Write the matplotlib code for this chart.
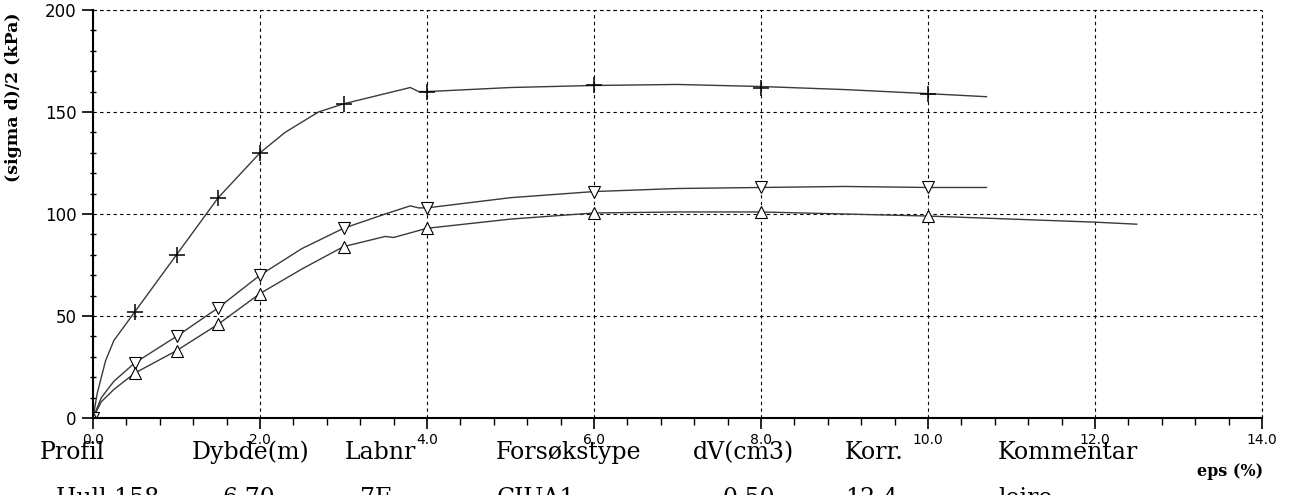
import numpy as np
import matplotlib.pyplot as plt
from matplotlib.ticker import MultipleLocator, FormatStrFormatter

# curve traces (eps %, kPa)
plus_x = [0, 0.05, 0.15, 0.25, 0.5, 1.0, 1.5, 2.0, 2.3, 2.7, 3.0, 3.4, 3.8, 3.9, 4.0, 5.0, 6.0, 7.0, 8.0, 9.0, 10.0, 10.7]
plus_y = [0, 12, 28, 38, 52, 80, 108, 130, 140, 150, 154, 158, 162, 160, 160, 162, 163, 163.5, 162.5, 161, 159, 157.5]
down_x = [0, 0.1, 0.25, 0.5, 1.0, 1.5, 2.0, 2.5, 3.0, 3.5, 3.8, 3.9, 4.0, 5.0, 6.0, 7.0, 8.0, 9.0, 10.0, 10.7]
down_y = [0, 10, 18, 27, 40, 54, 70, 83, 93, 100, 104, 103, 103, 108, 111, 112.5, 113, 113.5, 113, 113]
up_x = [0, 0.1, 0.25, 0.5, 1.0, 1.5, 2.0, 2.5, 3.0, 3.5, 3.6, 4.0, 5.0, 6.0, 7.0, 8.0, 9.0, 10.0, 11.0, 12.0, 12.5]
up_y = [0, 8, 14, 22, 33, 46, 61, 73, 84, 89, 88.5, 93, 97.5, 100.5, 101, 101, 100, 99, 97.5, 96, 95]

# marker positions
mk_x = [0, 0.5, 1.0, 1.5, 2.0, 3.0, 4.0, 6.0, 8.0, 10.0]
mk_plus = [0, 52, 80, 108, 130, 154, 160, 163, 162, 159]
mk_down = [0, 27, 40, 54, 70, 93, 103, 111, 113, 113]
mk_up = [0, 22, 33, 46, 61, 84, 93, 100.5, 101, 99]

headers = ['Profil', 'Dybde(m)', 'Labnr', 'Forsøkstype', 'dV(cm3)', 'Korr.', 'Kommentar']
values = ['Hull 158', '6.70', '7F', 'CIUA1', '0.50', '12.4', 'leire']
head_px = [40, 192, 345, 496, 693, 845, 998]
val_px = [56, 222, 360, 497, 722, 845, 998]

W, H = 1305, 495
fig = plt.figure(figsize=(W / 100, H / 100), dpi=100)
ax = fig.add_axes([93 / W, 1 - 418 / H, (1262 - 93) / W, (418 - 10) / H])

lc = '#3a3a3a'
ax.plot(plus_x, plus_y, color=lc, lw=1.0)
ax.plot(down_x, down_y, color=lc, lw=1.0)
ax.plot(up_x, up_y, color=lc, lw=1.0)
ax.plot(mk_x, mk_plus, ls='none', marker='+', ms=11, mew=1.1, color='black')
ax.plot(mk_x, mk_down, ls='none', marker='v', ms=9, mfc='white', mec='black', mew=0.8)
ax.plot(mk_x, mk_up, ls='none', marker='^', ms=9, mfc='white', mec='black', mew=0.8)

ax.set_xlim(0, 14)
ax.set_ylim(0, 200)
ax.xaxis.set_major_locator(MultipleLocator(2))
ax.xaxis.set_minor_locator(MultipleLocator(0.4))
ax.yaxis.set_major_locator(MultipleLocator(50))
ax.yaxis.set_minor_locator(MultipleLocator(10))
ax.xaxis.set_major_formatter(FormatStrFormatter('%.1f'))
grid_kw = dict(color='black', ls=(0, (3, 3)), lw=0.8)
ax.grid(True, which='major', **grid_kw)
ax.axvline(14, clip_on=False, **grid_kw)
ax.axhline(200, clip_on=False, **grid_kw)
for s in ['top', 'right']:
    ax.spines[s].set_visible(False)
ax.spines['left'].set_linewidth(1.5)
ax.spines['bottom'].set_linewidth(1.5)
ax.tick_params(axis='x', which='major', direction='out', length=8, width=1.2, labelsize=10, pad=3)
ax.tick_params(axis='x', which='minor', direction='out', length=5, width=1)
ax.tick_params(axis='y', which='major', direction='out', length=8, width=1.2, labelsize=12, pad=4)
ax.tick_params(axis='y', which='minor', direction='inout', length=4, width=1)
ax.set_ylabel('(sigma d)/2 (kPa)', family='DejaVu Serif', weight='bold', fontsize=12.5)
ax.yaxis.set_label_coords(-0.061, 0.787)
for t in ax.get_xticklabels() + ax.get_yticklabels():
    t.set_zorder(5)

fig.text(1263 / W, 1 - 476 / H, 'eps (%)', ha='right', va='baseline',
         family='DejaVu Serif', weight='bold', fontsize=11.5)
for h, x in zip(headers, head_px):
    fig.text(x / W, 1 - 459 / H, h, ha='left', va='baseline', family='DejaVu Serif', fontsize=17)
for v, x in zip(values, val_px):
    fig.text(x / W, 1 - 505 / H, v, ha='left', va='baseline', family='DejaVu Serif', fontsize=17)

fig.savefig('out.png', dpi=100)
